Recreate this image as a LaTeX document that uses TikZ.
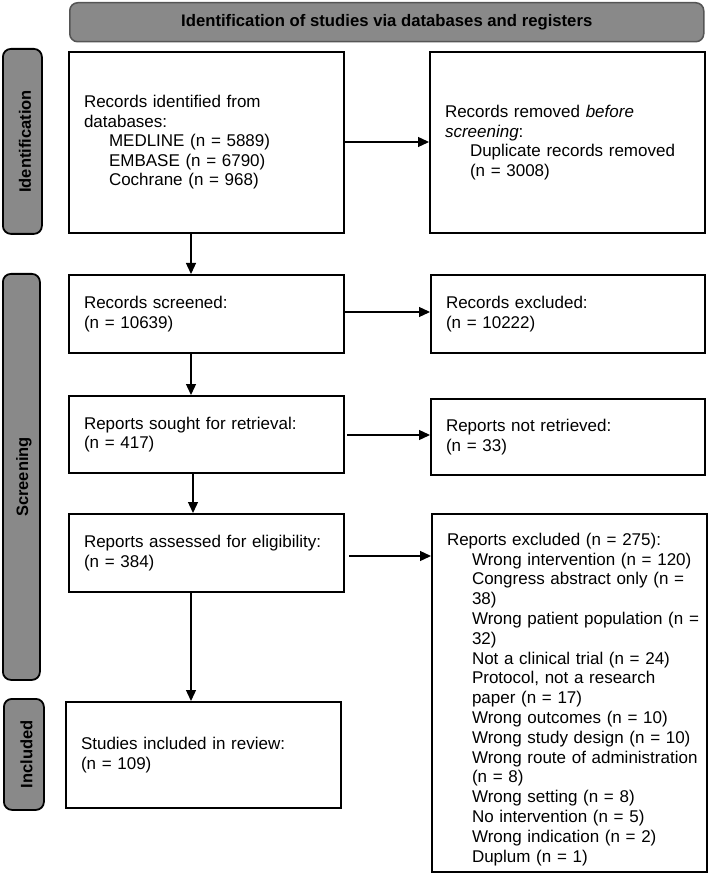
\documentclass[tikz,border=0pt]{standalone}
\usepackage{fontspec}
\setmainfont{Liberation Sans}
\usepackage{graphicx}
\usetikzlibrary{arrows.meta}
\definecolor{labgray}{RGB}{137,137,137}
\definecolor{hdrborder}{RGB}{85,85,85}
\newcommand\myind{\hspace*{25pt}}
\begin{document}
\begin{tikzpicture}[x=1pt,y=-1pt,
  box/.style={draw,line width=2pt,rectangle,anchor=north west,align=left,
    inner xsep=15pt,inner ysep=0pt,font=\fontsize{17}{19.5}\selectfont},
  lab/.style={draw=black,line width=1.8pt,fill=labgray,rounded corners=8pt,
    anchor=north west,inner sep=0pt},
  labtxt/.style={font=\bfseries\fontsize{16.5}{19}\selectfont,inner sep=0pt,xshift=2.5pt},
  arr/.style={line width=1.3pt,-{Triangle[length=11pt,width=10pt]}}]
\useasboundingbox (0,0) rectangle (708,874);

% header
\node[draw=hdrborder,line width=1.5pt,fill=labgray,rounded corners=8pt,anchor=north west,
  minimum width=634pt,minimum height=39pt,inner sep=0pt,
  font=\bfseries\fontsize{16.7}{19}\selectfont] (hdr) at (69,2)
  {Identification of studies via databases and registers};

% side labels
\node[lab,minimum width=39pt,minimum height=185pt] (lid) at (2,48) {};
\node[labtxt] (lidt) at (lid.center) {\rotatebox{90}{Identification}};
\node[lab,minimum width=37pt,minimum height=406pt] (lsc) at (2,273) {};
\node[labtxt] (lsct) at (lsc.center) {\rotatebox{90}{Screening}};
\node[lab,minimum width=40pt,minimum height=111pt] (lin) at (3,698) {};
\node[labtxt] (lint) at (lin.center) {\rotatebox{90}{Included}};

% boxes
\node[box,minimum width=275pt,minimum height=181pt,text width=245pt] (id) at (68,51)
  {Records identified from\\ databases:\\ \myind MEDLINE (n = 5889)\\ \myind EMBASE (n = 6790)\\ \myind Cochrane (n = 968)};
\node[box,minimum width=275pt,minimum height=181pt,text width=245pt] (rem) at (429,51)
  {Records removed \textit{before}\\ \textit{screening}:\\ \myind Duplicate records removed\\ \myind (n = 3008)};
\node[box,minimum width=275pt,minimum height=78pt,text width=245pt] (scr) at (68,274)
  {Records screened:\\ (n = 10639)};
\node[box,minimum width=274pt,minimum height=78pt,text width=244pt] (exc) at (430,274)
  {Records excluded:\\ (n = 10222)};
\node[box,minimum width=275pt,minimum height=77pt,text width=245pt] (sou) at (68,395)
  {Reports sought for retrieval:\\ (n = 417)};
\node[box,minimum width=274pt,minimum height=76pt,text width=244pt] (nret) at (430,398)
  {Reports not retrieved:\\ (n = 33)};
\node[box,minimum width=275pt,minimum height=78pt,text width=245pt] (ass) at (68,513)
  {Reports assessed for eligibility:\\ (n = 384)};
\node[box,minimum width=275pt,minimum height=358pt,text width=245pt,
  font=\fontsize{17}{19.8}\selectfont] (rex) at (431,513)
  {\rule{0pt}{25pt}Reports excluded (n = 275):\\
   \myind\mbox{Wrong intervention (n = 120)}\\
   \myind\mbox{Congress abstract only (n =}\\
   \myind 38)\\
   \myind\mbox{Wrong patient population (n =}\\
   \myind 32)\\
   \myind\mbox{Not a clinical trial (n = 24)}\\
   \myind\mbox{Protocol, not a research}\\
   \myind\mbox{paper (n = 17)}\\
   \myind\mbox{Wrong outcomes (n = 10)}\\
   \myind\mbox{Wrong study design (n = 10)}\\
   \myind\mbox{Wrong route of administration}\\
   \myind\mbox{(n = 8)}\\
   \myind\mbox{Wrong setting (n = 8)}\\
   \myind\mbox{No intervention (n = 5)}\\
   \myind\mbox{Wrong indication (n = 2)}\\
   \myind\mbox{Duplum (n = 1)}};
\node[box,minimum width=275pt,minimum height=106pt,text width=245pt] (inc) at (65,701)
  {Studies included in review:\\ (n = 109)};

% connectors
\coordinate (cx) at (191,0);
\coordinate (cy) at (193,0);
\draw[arr] (id.south -| cx) -- (scr.north -| cx);
\draw[arr] (scr.south -| cx) -- (sou.north -| cx);
\draw[arr] (sou.south -| cy) -- (ass.north -| cy);
\draw[arr] (ass.south -| cx) -- (inc.north -| cx);

\coordinate (r1) at (0,142);
\coordinate (r2) at (0,312);
\coordinate (r3) at (0,435);
\coordinate (r4) at (0,556);
\draw[arr] (id.east |- r1) -- (rem.west |- r1);
\draw[arr] (scr.east |- r2) -- (exc.west |- r2);
\draw[arr,shorten <=2pt] (sou.east |- r3) -- (nret.west |- r3);
\draw[arr,shorten <=4pt] (ass.east |- r4) -- (rex.west |- r4);
\end{tikzpicture}
\end{document}
